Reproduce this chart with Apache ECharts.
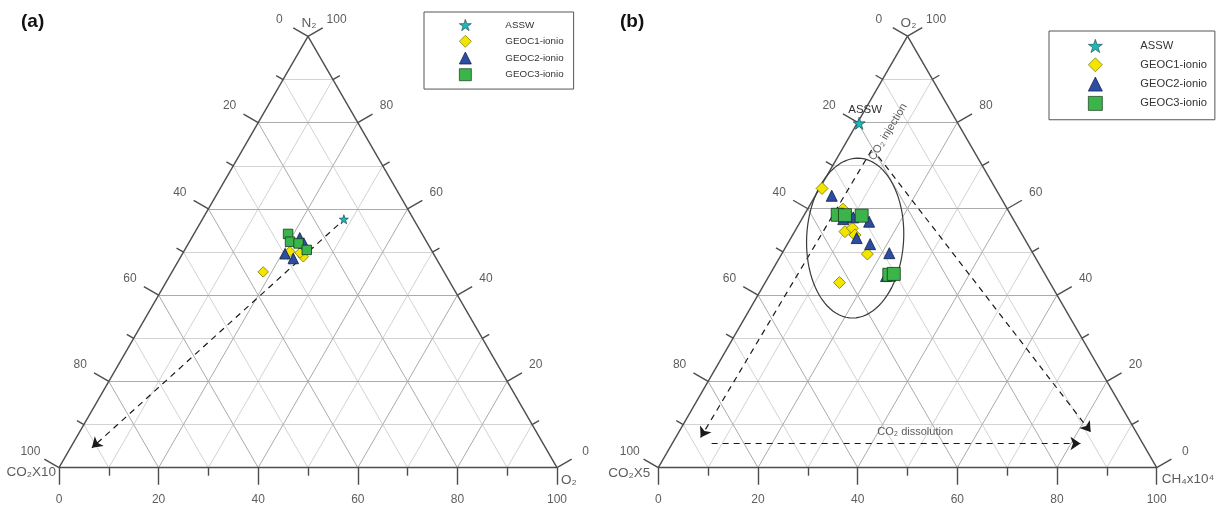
<!DOCTYPE html>
<html><head><meta charset="utf-8">
<script src="https://cdn.jsdelivr.net/npm/echarts@6/dist/echarts.min.js"></script>
<style>html,body{margin:0;padding:0;background:#fff}#c{width:1219px;height:506px}</style>
</head><body><div id="c"></div>
<script>
// ---------- DATA (ternary values: [left component, top component, right component]) ----------
const seriesNames = ['ASSW', 'GEOC1-ionio', 'GEOC2-ionio', 'GEOC3-ionio'];
const gridVals = [10, 20, 30, 40, 50, 60, 70, 80, 90];
const tickVals = [0, 10, 20, 30, 40, 50, 60, 70, 80, 90, 100];
const labelVals = [0, 20, 40, 60, 80, 100];

// Panel (a): [CO2x10, N2, O2]
const a_ASSW  = [[14.0, 57.6, 28.4]];
const a_GEOC1 = [[28.6, 50.1, 21.3], [26.5, 48.9, 24.6], [36.3, 45.4, 18.3], [26.7, 49.8, 23.5]];
const a_GEOC2 = [[25.0, 53.3, 21.7], [29.8, 49.6, 20.6], [28.7, 48.5, 22.8], [24.8, 52.1, 23.1]];
const a_GEOC3 = [[26.9, 54.2, 18.9], [27.4, 52.4, 20.2], [25.9, 52.0, 22.1], [25.0, 50.5, 24.5]];
const a_arrow = [[15.8, 56.3, 27.9], [91.1, 4.6, 4.3]];

// Panel (b): [CO2x5, O2, CH4x10^4]
const b_ASSW  = [[19.8, 79.8, 0.4]];
const b_GEOC1 = [[34.8, 64.7, 0.5], [33.0, 59.9, 7.1], [35.2, 54.7, 10.1], [33.3, 55.5, 11.2],
                 [33.6, 53.9, 12.5], [33.3, 49.5, 17.2], [42.2, 42.9, 14.9]];
const b_GEOC2 = [[33.7, 63.0, 3.3], [31.9, 58.0, 10.1], [29.2, 57.0, 13.8], [33.6, 53.2, 13.2],
                 [31.6, 51.8, 16.6], [28.8, 49.7, 21.5], [34.1, 57.6, 8.3], [32.1, 44.4, 23.5]];
const b_GEOC3 = [[34.7, 58.6, 6.7], [33.3, 58.5, 8.2], [30.0, 58.4, 11.6], [31.3, 44.7, 24.0], [30.3, 44.9, 24.8]];
const b_arrowInjLeft  = [[20.4, 73.6, 6.0], [88.0, 7.0, 5.0]];
const b_arrowInjRight = [[19.8, 72.1, 8.1], [9.1, 8.3, 82.6]];
const b_arrowDiss     = [[86.5, 5.6, 7.9], [12.5, 5.6, 81.9]];
const b_ellipseCenter = [33.9, 53.2, 12.9];
const b_injectionText = [15.0, 77.8, 7.2];
const b_dissolutionText = [44.4, 8.3, 47.4];

// ---------- helpers ----------
const S3 = Math.sqrt(3) / 2;
const FONT = 'Liberation Sans, Arial, sans-serif';
const xy = p => [p[2] + p[1] / 2, p[1] * S3];
function edgePt(edge, v) {
  if (edge === 'bottom') return xy([100 - v, 0, v]);
  if (edge === 'left') return xy([v, 100 - v, 0]);
  return xy([0, v, 100 - v]);
}
const NORM = { bottom: [0, -1], left: [-S3, 0.5], right: [S3, 0.5] };

const STY = {
  'ASSW':        { symbol: 'path://M50,0 L61.8,35.1 L98.9,35.1 L68.9,56.8 L80.3,91.9 L50,70.2 L19.7,91.9 L31.1,56.8 L1.1,35.1 L38.2,35.1 Z', color: '#1fb8b8', border: '#1d5860' },
  'GEOC1-ionio': { symbol: 'diamond',  color: '#f2e600', border: '#7d7400' },
  'GEOC2-ionio': { symbol: 'triangle', color: '#2b4ea3', border: '#0f1a45' },
  'GEOC3-ionio': { symbol: 'rect',     color: '#3bb54a', border: '#143a1c' }
};

function buildPanel(i, cfg) {
  const u = cfg.pxPerUnit;
  const base = { xAxisIndex: i, yAxisIndex: i, silent: true, animation: false };
  const out = [];
  const minor = [], major = [];
  gridVals.forEach(v => {
    const segs = [
      [xy([100 - v, v, 0]), xy([0, v, 100 - v])],
      [xy([100 - v, 0, v]), xy([0, 100 - v, v])],
      [xy([v, 0, 100 - v]), xy([v, 100 - v, 0])]
    ];
    segs.forEach(c => (v % 20 === 0 ? major : minor).push({ coords: c }));
  });
  out.push({ ...base, type: 'lines', coordinateSystem: 'cartesian2d', clip: false, data: minor, lineStyle: { color: '#d3d3d3', width: 1, opacity: 1 }, z: 1 });
  out.push({ ...base, type: 'lines', coordinateSystem: 'cartesian2d', clip: false, data: major, lineStyle: { color: '#ababab', width: 1, opacity: 1 }, z: 2 });
  const border = [
    { coords: [xy([100, 0, 0]), xy([0, 0, 100])] },
    { coords: [xy([100, 0, 0]), xy([0, 100, 0])] },
    { coords: [xy([0, 100, 0]), xy([0, 0, 100])] }
  ];
  out.push({ ...base, type: 'lines', coordinateSystem: 'cartesian2d', clip: false, data: border, lineStyle: { color: '#4d4d4d', width: 1.4, opacity: 1 }, z: 3 });
  const ticks = [], labels = [];
  ['bottom', 'left', 'right'].forEach(edge => {
    const n = NORM[edge];
    tickVals.forEach(v => {
      const p = edgePt(edge, v);
      const len = (v % 20 === 0 ? 17 : 8) / u;
      ticks.push({ coords: [p, [p[0] + n[0] * len, p[1] + n[1] * len]] });
    });
    labelVals.forEach(v => {
      const p = edgePt(edge, v);
      const d = (edge === 'bottom' ? 32 : 33) / u;
      labels.push([p[0] + n[0] * d, p[1] + n[1] * d, String(v)]);
    });
  });
  out.push({ ...base, type: 'lines', coordinateSystem: 'cartesian2d', clip: false, data: ticks, lineStyle: { color: '#4d4d4d', width: 1.4, opacity: 1 }, z: 3 });
  out.push({ ...base, type: 'scatter', clip: false, data: labels, symbolSize: 0.01, itemStyle: { color: 'rgba(0,0,0,0)' },
    label: { show: true, position: 'inside', formatter: p => p.data[2], color: '#333', fontSize: 12, fontFamily: FONT }, z: 4 });
  // axis names at vertices
  out.push({ ...base, type: 'scatter', clip: false, symbolSize: 0.01, itemStyle: { color: 'rgba(0,0,0,0)' }, z: 4,
    data: cfg.names.map(nm => ({ value: xy(nm.v), label: { show: true, formatter: nm.t, position: nm.off, align: nm.align, verticalAlign: 'middle', color: '#333', fontSize: 13.5, fontFamily: FONT } })) });
  // dashed arrows
  out.push({ ...base, type: 'lines', coordinateSystem: 'cartesian2d', clip: false, z: 5,
    data: cfg.arrows.map(a => ({ coords: [xy(a[0]), xy(a[1])] })),
    symbol: ['none', 'arrow'], symbolSize: [0, 10],
    lineStyle: { color: '#1a1a1a', width: 1.2, type: [6, 5], opacity: 1 }, itemStyle: { color: '#111' } });
  if (cfg.ellipse) {
    const c = xy(cfg.ellipse.c), rx = 48.5 / u, ry = 80 / u, th = -3 * Math.PI / 180;
    const pts = [];
    for (let k = 0; k <= 90; k++) {
      const t = 2 * Math.PI * k / 90;
      const ex = rx * Math.cos(t), ey = ry * Math.sin(t);
      pts.push([c[0] + ex * Math.cos(th) - ey * Math.sin(th), c[1] + ex * Math.sin(th) + ey * Math.cos(th)]);
    }
    out.push({ ...base, type: 'line', data: pts, showSymbol: false, symbol: 'none', clip: false, smooth: false,
      lineStyle: { color: '#3a3a3a', width: 1.2 }, z: 5 });
  }
  if (cfg.texts) {
    out.push({ ...base, type: 'scatter', clip: false, symbolSize: 0.01, itemStyle: { color: 'rgba(0,0,0,0)' }, z: 6,
      data: cfg.texts.map(tx => ({ value: xy(tx.v), label: { show: true, position: 'inside', formatter: tx.t, rotate: tx.rot || 0, color: '#333', fontSize: 11, fontFamily: FONT } })) });
  }
  // data series (draw order: GEOC1, GEOC2, GEOC3, ASSW)
  const order = [1, 2, 3, 0];
  order.forEach(k => {
    const nm = seriesNames[k];
    const st = STY[nm];
    const s = { xAxisIndex: i, yAxisIndex: i, animation: false, type: 'scatter', name: nm, clip: false, z: 10,
      symbol: st.symbol, symbolSize: cfg.sizes[k],
      itemStyle: { color: st.color, borderColor: st.border, borderWidth: 0.8, opacity: 1 },
      data: cfg.data[k].map(xy) };
    if (cfg.asswLabel && k === 0) {
      s.label = { show: true, formatter: 'ASSW', position: 'top', distance: 1, offset: [6, 0], color: '#333', fontSize: 11.5, fontFamily: FONT };
    }
    out.push(s);
  });
  return out;
}

const panelA = buildPanel(0, {
  pxPerUnit: 4.98,
  data: [a_ASSW, a_GEOC1, a_GEOC2, a_GEOC3],
  sizes: [9, 10.5, 10.5, 9.5],
  arrows: [a_arrow],
  names: [
    { v: [100, 0, 0], t: 'CO₂X10', off: [-3, 5], align: 'right' },
    { v: [0, 100, 0], t: 'N₂', off: [1, -13], align: 'center' },
    { v: [0, 0, 100], t: 'O₂', off: [4, 13], align: 'left' }
  ]
});
const panelB = buildPanel(1, {
  pxPerUnit: 4.984,
  data: [b_ASSW, b_GEOC1, b_GEOC2, b_GEOC3],
  sizes: [12, 12, 11, 13],
  arrows: [b_arrowInjLeft, b_arrowInjRight, b_arrowDiss],
  ellipse: { c: b_ellipseCenter },
  texts: [{ v: b_injectionText, t: 'CO₂ injection', rot: 59 }, { v: b_dissolutionText, t: 'CO₂ dissolution' }],
  asswLabel: true,
  names: [
    { v: [100, 0, 0], t: 'CO₂X5', off: [-8, 6], align: 'right' },
    { v: [0, 100, 0], t: 'O₂', off: [1, -13], align: 'center' },
    { v: [0, 0, 100], t: 'CH₄x10⁴', off: [5, 12], align: 'left' }
  ]
});

const legendData = seriesNames.map(nm => ({
  name: nm,
  itemStyle: { color: STY[nm].color, borderColor: STY[nm].border, borderWidth: 0.7 }
}));
const legendCommon = {
  orient: 'vertical', selectedMode: false, data: legendData,
  borderColor: '#555', borderWidth: 1, backgroundColor: '#fff'
};

const option = {
  animation: false,
  backgroundColor: '#fff',
  title: [
    { text: '(a)', left: 21, top: 12, padding: 0, textStyle: { fontSize: 19, fontWeight: 'bold', color: '#111', fontFamily: FONT } },
    { text: '(b)', left: 620, top: 12, padding: 0, textStyle: { fontSize: 19, fontWeight: 'bold', color: '#111', fontFamily: FONT } }
  ],
  legend: [
    { ...legendCommon, left: 424, top: 12, padding: [7, 10, 8, 35], itemWidth: 12, itemHeight: 12, itemGap: 4,
      formatter: '{g|}{name}', textStyle: { fontSize: 9.8, color: '#333', fontFamily: FONT, rich: { g: { width: 29 } } } },
    { ...legendCommon, left: 1049, top: 31, padding: [8, 8, 9, 39], itemWidth: 14, itemHeight: 14, itemGap: 4.6,
      formatter: '{g|}{name}', textStyle: { fontSize: 11.2, color: '#333', fontFamily: FONT, rich: { g: { width: 33 } } } }
  ],
  grid: [
    { left: 59, top: 36.4, width: 498, height: 431.3 },
    { left: 658.3, top: 36.1, width: 498.4, height: 431.6 }
  ],
  xAxis: [
    { type: 'value', gridIndex: 0, min: 0, max: 100, show: false },
    { type: 'value', gridIndex: 1, min: 0, max: 100, show: false }
  ],
  yAxis: [
    { type: 'value', gridIndex: 0, min: 0, max: 100 * S3, show: false },
    { type: 'value', gridIndex: 1, min: 0, max: 100 * S3, show: false }
  ],
  series: panelA.concat(panelB)
};
const chart = echarts.init(document.getElementById('c'));
chart.setOption(option);
</script>
</body></html>
